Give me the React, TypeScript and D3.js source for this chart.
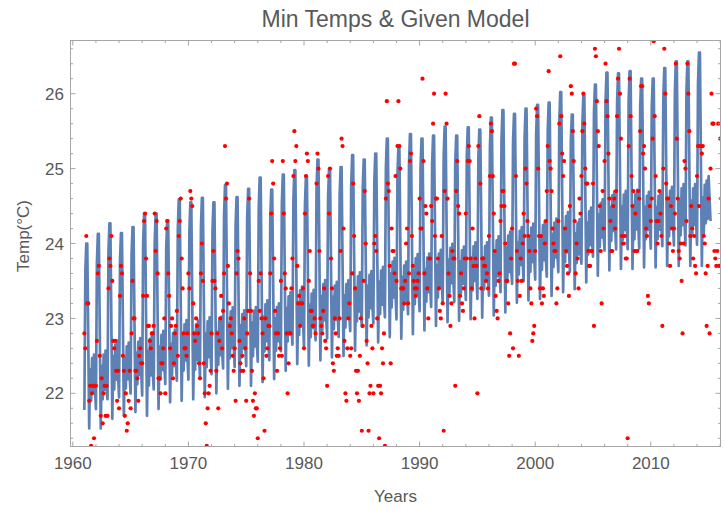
import React from "react";
import * as d3 from "d3";

// ---------- Observed monthly minimum temperatures (°C), Jan..Dec ----------
const minTemps1960s: number[][] = [
  [22.8, 22.6, 24.1, 23.2, 23.2, 21.9, 22.1, 21.3, 22.0, 22.1, 21.4, 22.1],
  [22.1, 22.7, 23.6, 23.7, 22.5, 21.7, 22.2, 21.6, 22.0, 22.1, 21.7, 22.1],
  [21.7, 23.4, 23.8, 23.7, 24.1, 23.5, 22.7, 22.6, 22.7, 22.3, 21.9, 22.3],
  [21.8, 23.3, 23.7, 23.6, 22.5, 22.3, 21.7, 22.0, 21.5, 21.6, 21.9, 22.3],
  [21.8, 22.8, 23.5, 23.0, 23.0, 22.3, 22.3, 22.2, 21.9, 22.5, 22.6, 22.4],
  [22.4, 23.3, 24.3, 24.4, 23.8, 23.3, 22.9, 22.9, 22.7, 22.6, 22.8, 22.8],
  [22.9, 24.4, 23.9, 24.3, 23.6, 22.2, 22.2, 22.0, 22.4, 22.4, 22.6, 23.0],
  [22.0, 24.2, 24.3, 23.6, 23.3, 22.6, 22.9, 23.0, 22.2, 22.4, 22.8, 22.9],
  [23.1, 22.5, 24.1, 24.3, 24.6, 23.8, 23.4, 22.8, 22.6, 22.6, 22.5, 22.8],
];
const minTemps1970s: number[][] = [
  [23.6, 23.4, 24.7, 24.6, 24.5, 23.2, 22.8, 22.7, 23.0, 22.9, 22.8, 22.4],
  [22.2, 23.6, 24.0, 23.5, 22.4, 22.0, 21.6, 21.3, 21.8, 22.0, 22.1, 22.3],
  [22.8, 23.5, 23.9, 23.5, 23.4, 22.3, 22.8, 21.8, 22.7, 23.0, 23.3, 22.6],
  [23.1, 23.6, 25.3, 24.6, 24.8, 23.7, 23.2, 22.9, 23.0, 22.8, 22.5, 22.3],
  [22.6, 21.9, 23.6, 23.9, 23.8, 22.7, 22.4, 22.3, 22.5, 22.3, 23.0, 22.6],
  [21.9, 22.8, 23.1, 24.6, 23.6, 23.1, 22.3, 21.9, 21.7, 22.0, 21.8, 21.8],
  [21.4, 23.5, 23.1, 23.6, 23.0, 22.8, 22.2, 21.5, 23.0, 22.5, 22.6, 22.9],
  [22.9, 23.6, 24.4, 25.1, 24.8, 23.8, 23.1, 22.8, 22.3, 22.8, 22.5, 22.6],
  [23.5, 22.5, 25.1, 24.4, 23.6, 23.4, 22.8, 22.0, 22.4, 22.8, 22.8, 23.4],
  [23.8, 24.9, 25.5, 25.1, 25.3, 23.7, 23.2, 23.3, 22.9, 23.2, 23.2, 23.4],
];
const minTemps1980s: number[][] = [
  [22.6, 24.4, 24.9, 25.2, 25.1, 23.5, 23.9, 23.1, 23.1, 22.9, 22.9, 23.0],
  [22.8, 24.8, 25.2, 25.0, 23.9, 23.0, 22.9, 22.8, 23.1, 23.4, 22.7, 22.6],
  [22.1, 24.9, 24.4, 25.0, 23.8, 23.4, 22.4, 22.3, 23.0, 22.8, 22.5, 22.6],
  [22.5, 23.0, 23.9, 25.4, 25.3, 24.2, 22.7, 22.0, 21.9, 22.6, 23.0, 23.2],
  [22.5, 22.6, 23.6, 24.8, 24.1, 23.4, 22.3, 22.0, 22.3, 21.9, 22.5, 23.0],
  [21.5, 22.9, 23.5, 24.7, 24.0, 22.7, 22.4, 21.5, 22.0, 22.1, 22.9, 22.6],
  [22.0, 24.0, 24.1, 23.9, 23.0, 22.1, 21.4, 22.1, 22.0, 22.6, 22.4, 22.8],
  [21.3, 24.6, 25.9, 24.8, 24.7, 23.7, 22.4, 24.2, 23.9, 23.9, 23.6, 24.9],
  [23.5, 25.3, 25.9, 25.3, 25.0, 23.4, 23.4, 23.4, 23.2, 23.5, 24.0, 24.2],
  [23.2, 23.6, 25.1, 25.2, 24.1, 23.7, 23.5, 23.4, 23.3, 23.4, 23.5, 23.6],
];
const minTemps1990s: number[][] = [
  [24.6, 24.2, 24.2, 26.2, 25.1, 23.6, 24.5, 24.4, 23.4, 23.0, 23.8, 23.8],
  [24.5, 24.3, 25.6, 26.0, 24.1, 24.6, 24.6, 23.8, 23.4, 23.1, 23.0, 24.1],
  [23.2, 21.5, 24.7, 26.0, 25.6, 24.6, 23.6, 23.3, 22.9, 23.2, 23.9, 23.8],
  [23.8, 22.1, 24.7, 25.1, 24.5, 24.4, 23.3, 23.6, 23.2, 23.1, 23.4, 23.8],
  [24.4, 23.8, 25.1, 25.3, 25.1, 23.8, 23.4, 24.2, 23.7, 23.0, 23.8, 23.7],
  [22.0, 25.3, 25.7, 24.8, 23.4, 23.8, 23.8, 23.7, 23.7, 23.5, 23.6, 23.4],
  [24.1, 24.9, 25.6, 25.5, 24.9, 24.4, 23.9, 23.3, 23.1, 23.0, 23.5, 23.6],
  [24.3, 24.5, 24.7, 24.7, 24.5, 24.0, 23.5, 23.5, 23.2, 22.5, 22.8, 23.8],
  [24.2, 22.6, 26.4, 26.4, 24.9, 23.9, 23.5, 22.5, 23.3, 23.8, 23.5, 24.0],
  [24.4, 24.1, 25.0, 24.8, 24.3, 24.1, 23.9, 23.4, 23.2, 22.7, 22.8, 22.9],
];
const minTemps2000s: number[][] = [
  [23.9, 25.8, 25.7, 25.0, 24.1, 23.4, 24.1, 23.2, 23.4, 23.3, 24.0, 24.3],
  [24.7, 25.3, 26.3, 25.1, 25.0, 24.7, 24.2, 24.0, 23.9, 23.9, 23.2, 23.4],
  [24.3, 25.6, 26.5, 25.7, 25.2, 24.9, 25.1, 24.2, 23.9, 23.7, 23.6, 23.3],
  [24.5, 26.1, 26.0, 25.5, 25.1, 24.3, 23.6, 24.0, 23.8, 23.4, 24.6, 24.4],
  [24.9, 25.5, 26.0, 25.6, 25.0, 24.8, 24.8, 23.9, 23.7, 23.7, 23.9, 23.9],
  [24.8, 22.9, 26.6, 26.5, 25.9, 25.5, 25.3, 24.5, 23.9, 23.2, 24.7, 24.2],
  [25.1, 26.4, 25.9, 25.7, 25.2, 24.6, 24.3, 23.9, 23.9, 24.5, 24.6, 24.2],
  [24.7, 25.7, 26.2, 26.6, 26.0, 25.4, 24.1, 24.0, 24.0, 24.1, 23.8, 23.8],
  [21.4, 25.3, 26.2, 25.7, 24.9, 24.5, 24.7, 23.9, 24.4, 23.9, 23.9, 24.7],
  [24.6, 25.5, 26.1, 26.1, 25.2, 25.3, 25.0, 24.2, 24.1, 23.3, 23.2, 24.5],
];
const minTemps2010s: number[][] = [
  [24.3, 24.6, 25.4, 26.7, 25.7, 24.9, 24.3, 24.0, 24.3, 24.7, 24.4, 24.1],
  [22.9, 25.0, 26.6, 26.0, 24.8, 24.6, 24.6, 24.0, 23.7, 24.5, 24.2, 23.9],
  [24.2, 24.4, 26.4, 25.4, 24.6, 23.9, 23.8, 24.0, 23.5, 22.8, 24.0, 25.1],
  [25.0, 24.3, 26.4, 26.0, 25.5, 24.1, 24.5, 24.2, 23.8, 24.1, 23.7, 23.6],
  [24.9, 25.3, 24.5, 25.3, 25.3, 25.2, 25.3, 24.1, 24.0, 23.6, 22.9, 23.7],
  [24.6, 22.8, 25.0, 26.0, 25.6, 25.6, 23.9, 23.8, 23.7, 23.9, 25.6, 23.7],
  [25.4, 24.6, 22.9],
];
const decadeStarts = [1961, 1970, 1980, 1990, 2000, 2010];
const decades = [minTemps1960s, minTemps1970s, minTemps1980s, minTemps1990s, minTemps2000s, minTemps2010s];

// ---------- Given model: yearly peak / trough (1961..2014) and seasonal shape ----------
const modelYears = d3.range(1961, 2015);
const modelPeaks = [
  24.0, 24.13, 24.27, 24.14, 24.22, 24.4, 24.4, 24.31, 24.59,
  24.55, 24.61, 24.55, 24.78, 24.62, 24.73, 24.88, 24.72, 24.92, 24.98,
  24.9, 25.12, 25.0, 25.02, 25.18, 25.12, 25.2, 25.4, 25.3, 25.46,
  25.4, 25.44, 25.56, 25.44, 25.55, 25.52, 25.68, 25.78, 25.73, 25.8,
  25.85, 25.88, 26.02, 25.72, 25.98, 26.12, 26.28, 26.27, 26.3, 26.2,
  26.2, 26.34, 26.43, 26.43, 26.55,
];
const modelTroughs = [
  21.53, 21.53, 21.66, 21.7, 21.75, 21.7, 21.79, 21.88, 21.9,
  21.92, 21.95, 22.0, 22.06, 22.1, 22.1, 22.15, 22.19, 22.3, 22.39,
  22.37, 22.44, 22.48, 22.5, 22.57, 22.64, 22.68, 22.75, 22.73, 22.79,
  22.84, 22.9, 22.95, 22.97, 22.99, 23.01, 23.04, 23.08, 23.21, 23.24,
  23.26, 23.3, 23.35, 23.39, 23.48, 23.57, 23.64, 23.66, 23.66, 23.68,
  23.68, 23.7, 23.7, 23.7, 23.7,
];
const seasonalShape = [0.1, 0.85, 1.0, 1.0, 0.5, 0.0, 0.32, 0.15, 0.38, 0.2, 0.4, 0.22];
const modelTail2015 = [24.9, 24.6, 24.3];

// ---------- Axes ----------
const xMajorTicks = [1960, 1970, 1980, 1990, 2000, 2010];
const xMinorTicks = d3.range(1960, 2017, 2).filter((v) => v % 10 !== 0);
const yMajorTicks = [22, 23, 24, 25, 26];
const yMinorTicks = d3.range(21.4, 26.7, 0.2).map((v) => Math.round(v * 10) / 10).filter((v) => Math.abs(v - Math.round(v)) > 0.01);

const TITLE = "Min Temps & Given Model";
const X_LABEL = "Years";
const Y_LABEL = "Temp(\u00B0C)";

const L = 70.5, R = 720.5, T = 40.5, B = 446.5;
const TEXT = "#595959";
const FRAME = "#a6a6a6";
const FONT = "'Liberation Sans', Arial, sans-serif";

export default function App() {
  const x = d3.scaleLinear().domain([1959.8, 2016.03]).range([L, R]);
  const y = d3.scaleLinear().domain([21.29, 26.71]).range([B, T]);

  const points: { t: number; v: number }[] = [];
  decades.forEach((dec, di) => {
    dec.forEach((months, yi) => {
      months.forEach((v, m) => points.push({ t: decadeStarts[di] + yi + m / 12, v }));
    });
  });

  const model: [number, number][] = [];
  modelYears.forEach((yr, i) => {
    seasonalShape.forEach((s, m) => {
      model.push([yr + m / 12, modelTroughs[i] + s * (modelPeaks[i] - modelTroughs[i])]);
    });
  });
  modelTail2015.forEach((v, m) => model.push([2015 + m / 12, v]));

  const line = d3.line<[number, number]>().x((d) => x(d[0])).y((d) => y(d[1]));

  const majorLen = 5;
  const minorLen = 2.5;

  return (
    <svg width={725} height={517} style={{ position: "absolute", left: 0, top: 0, background: "#fff" }} fontFamily={FONT}>
      <defs>
        <clipPath id="plotClip">
          <rect x={L} y={T} width={R - L} height={B - T} />
        </clipPath>
      </defs>
      <rect x={0} y={0} width={725} height={517} fill="#fff" />

      <g clipPath="url(#plotClip)">
        <path d={line(model) || ""} fill="none" stroke="#5E81B5" strokeWidth={2.7} strokeLinejoin="round" />
        {points.map((p, i) => (
          <circle key={i} cx={x(p.t)} cy={y(p.v)} r={2.1} fill="#ff0000" />
        ))}
      </g>

      {/* frame */}
      <rect x={L} y={T} width={R - L} height={B - T} fill="none" stroke={FRAME} strokeWidth={1} />

      {/* x ticks */}
      {xMajorTicks.map((t) => (
        <g key={"xm" + t}>
          <line x1={x(t)} x2={x(t)} y1={B} y2={B - majorLen} stroke={FRAME} />
          <line x1={x(t)} x2={x(t)} y1={T} y2={T + majorLen} stroke={FRAME} />
          <text x={x(t)} y={469} textAnchor="middle" fontSize={17} fill={TEXT}>{t}</text>
        </g>
      ))}
      {xMinorTicks.map((t) => (
        <g key={"xn" + t}>
          <line x1={x(t)} x2={x(t)} y1={B} y2={B - minorLen} stroke={FRAME} />
          <line x1={x(t)} x2={x(t)} y1={T} y2={T + minorLen} stroke={FRAME} />
        </g>
      ))}

      {/* y ticks */}
      {yMajorTicks.map((t) => (
        <g key={"ym" + t}>
          <line x1={L} x2={L + majorLen} y1={y(t)} y2={y(t)} stroke={FRAME} />
          <line x1={R} x2={R - majorLen} y1={y(t)} y2={y(t)} stroke={FRAME} />
          <text x={64} y={y(t)} dy="0.36em" textAnchor="end" fontSize={17} fill={TEXT}>{t}</text>
        </g>
      ))}
      {yMinorTicks.map((t) => (
        <g key={"yn" + t}>
          <line x1={L} x2={L + minorLen} y1={y(t)} y2={y(t)} stroke={FRAME} />
          <line x1={R} x2={R - minorLen} y1={y(t)} y2={y(t)} stroke={FRAME} />
        </g>
      ))}

      {/* labels */}
      <text x={(L + R) / 2} y={27} textAnchor="middle" fontSize={23} fill={TEXT}>{TITLE}</text>
      <text x={(L + R) / 2} y={502} textAnchor="middle" fontSize={17} fill={TEXT}>{X_LABEL}</text>
      <text transform={`translate(29, 236) rotate(-90)`} textAnchor="middle" fontSize={17} fill={TEXT}>{Y_LABEL}</text>
    </svg>
  );
}
